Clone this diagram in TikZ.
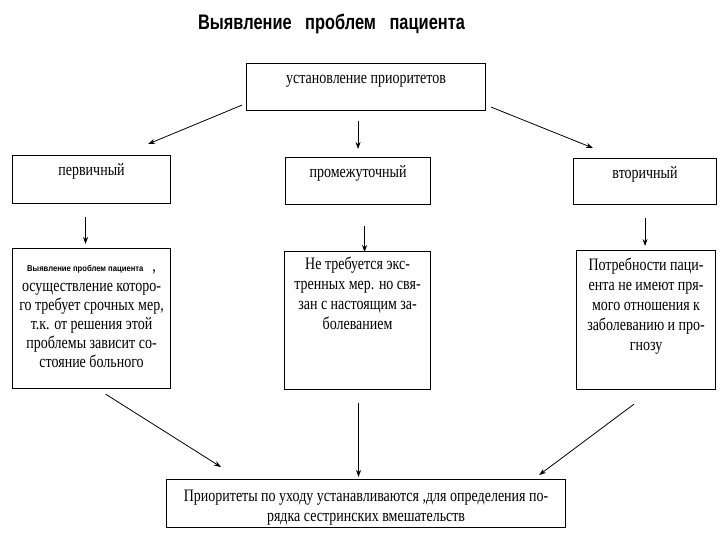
\documentclass[tikz,border=0pt]{standalone}
\usepackage{fontspec}
\usetikzlibrary{arrows.meta,calc}
\newfontfamily\serifcond[FakeStretch=0.8]{Liberation Serif}
\newfontfamily\sanscond[FakeStretch=0.78]{Liberation Sans}
\newfontfamily\sanswide[FakeStretch=0.9]{Liberation Sans}
\tikzset{
  box/.style={draw, line width=1.1pt, anchor=north west, align=flush center, inner sep=0pt,
    font=\serifcond\fontsize{17.5}{20}\selectfont},
  head/.style={box, text height=20pt, text depth=27pt},
  arr/.style={-{Stealth[length=7pt,width=5pt]}, line width=0.8pt}
}
\begin{document}
\begin{tikzpicture}[x=1pt,y=-1pt]
  \useasboundingbox (0,0) rectangle (720,540);

  % Title
  \node (title) [anchor=base, font=\sanscond\bfseries\fontsize{21}{24}\selectfont] at (331.5,30)
    {Выявление\hspace{9pt} проблем\hspace{9pt} пациента};

  % Draw boxes of the first rows
  \node (top) [head, minimum width=239pt] at (246,63) {установление приоритетов};
  \node (prim) [head, minimum width=158pt, text depth=28pt] at (12,155) {первичный};
  \node (mid) [head, minimum width=145pt] at (285,157) {промежуточный};
  \node (sec) [head, minimum width=143pt, text depth=26pt] at (573,158) {вторичный};

  % Draw description boxes
  \node (det1) [box, text width=158pt, text height=23pt, text depth=117pt,
    font=\serifcond\fontsize{17.5}{19}\selectfont] at (12,248)
    {{\sanswide\bfseries\fontsize{8.5}{10}\selectfont Выявление проблем пациента}\hspace{9pt},\\[1pt]
     осуществление которо-\\го требует срочных мер,\\т.к. от решения этой\\проблемы зависит со-\\стояние больного};
  \node (det2) [box, text width=146pt, text height=18pt, text depth=120pt] at (284,251)
    {Не требуется экс-\\тренных мер. но свя-\\зан с настоящим за-\\болеванием};
  \node (det3) [box, text width=139pt, text height=20pt, text depth=119pt] at (576,250)
    {Потребности паци-\\ента не имеют пря-\\мого отношения к\\заболеванию и про-\\гнозу};

  % Draw the result box
  \node (bot) [box, text width=399pt, text height=22pt, text depth=26pt] at (166,479)
    {Приоритеты по уходу устанавливаются ,для определения по-\\рядка сестринских вмешательств};

  % Arrows from the top box
  \draw[arr] ([shift={(-4,-6)}]top.south west) -- ([shift={(-23,-11)}]prim.north east);
  \draw[arr] ($(top.south -| mid.north)+(0,10)$) -- ($(mid.north)+(0,-8)$);
  \draw[arr] ([shift={(5,-4)}]top.south east) -- ([shift={(20,-10)}]sec.north west);

  % Arrows down to the descriptions
  \draw[arr] ($(prim.south)+(-6,13)$) -- ($(prim.south |- det1.north)+(-6,-4)$);
  \draw[arr] ($(mid.south)+(6.5,21)$) -- ($(mid.south |- det2.north)+(6.5,1)$);
  \draw[arr] ($(sec.south)+(0,13)$) -- ($(sec.south |- det3.north)+(0,-4)$);

  % Arrows to the result box
  \draw[arr] ($(det1.south)+(14,5)$) -- ([shift={(55,-12)}]bot.north west);
  \draw[arr] ($(det2.south)+(1,13)$) -- ($(bot.north -| det2.south)+(1,-2)$);
  \draw[arr] ($(det3.south)+(-12,14)$) -- ([shift={(-27,-4)}]bot.north east);
\end{tikzpicture}
\end{document}
